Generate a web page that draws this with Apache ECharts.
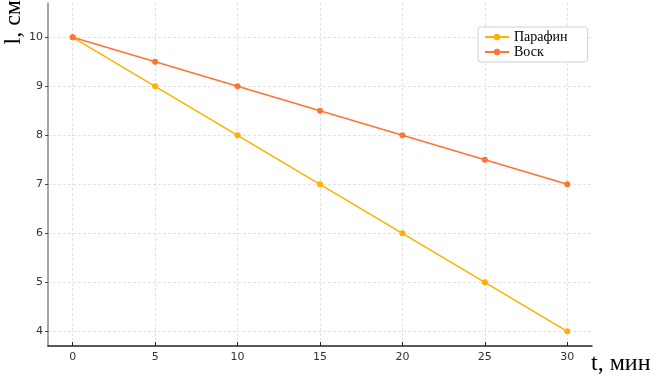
<!DOCTYPE html>
<html><head><meta charset="utf-8">
<script src="https://cdn.jsdelivr.net/npm/echarts@6/dist/echarts.min.js"></script>
<style>html,body{margin:0;padding:0;background:#fff}#c{width:654px;height:377px}</style>
</head><body><div id="c"></div>
<script>
const times = [0, 5, 10, 15, 20, 25, 30];
const paraffin = [10, 9, 8, 7, 6, 5, 4];
const wax = [10, 9.5, 9, 8.5, 8, 7.5, 7];
const xTicks = [0, 5, 10, 15, 20, 25, 30];
const yTicks = [4, 5, 6, 7, 8, 9, 10];
const seriesNames = ['Парафин', 'Воск'];

const chart = echarts.init(document.getElementById('c'), null, {renderer: 'canvas'});
const tickFont = {fontFamily: 'DejaVu Sans', fontSize: 11, color: '#333'};
chart.setOption({
  animation: false,
  grid: {left: 48, right: 62, top: 3, bottom: 31},
  legend: {
    left: 478, top: 27, orient: 'vertical', itemGap: 1,
    itemWidth: 24, itemHeight: 8, padding: [3, 20, 3, 6],
    borderColor: '#d0d0d0', borderWidth: 1, borderRadius: 3, backgroundColor: '#fff',
    textStyle: {fontFamily: 'Liberation Serif', fontSize: 14, color: '#000'},
    data: seriesNames
  },
  xAxis: {
    type: 'value', min: -1.5, max: 31.5,
    axisLine: {onZero: false, lineStyle: {color: '#222', width: 1.5}},
    axisTick: {customValues: xTicks, inside: true, length: 4, lineStyle: {color: '#222'}},
    axisLabel: Object.assign({customValues: xTicks, margin: 6}, tickFont),
    splitLine: {show: true, lineStyle: {color: '#dcdcdc', type: [3, 2], width: 0.8}}
  },
  yAxis: {
    type: 'value', min: 3.7, max: 10.7,
    axisLine: {show: true, onZero: false, lineStyle: {color: '#888', width: 1.5}},
    axisTick: {show: true, customValues: yTicks, length: 3, lineStyle: {color: '#444'}},
    axisLabel: Object.assign({customValues: yTicks, margin: 5}, tickFont),
    splitLine: {show: true, lineStyle: {color: '#dcdcdc', type: [3, 2], width: 0.8}}
  },
  graphic: [
    {type: 'text', left: 2, top: 0, rotation: Math.PI / 2,
      style: {text: 'l, см', fontFamily: 'Liberation Serif', fontSize: 24, fill: '#000'}},
    {type: 'text', left: 591, top: 352,
      style: {text: 't, мин', fontFamily: 'Liberation Serif', fontSize: 24, fill: '#000'}}
  ],
  series: [
    {name: seriesNames[0], type: 'line', data: times.map((t, i) => [t, paraffin[i]]),
      symbol: 'circle', symbolSize: 6, itemStyle: {color: '#ffb000'}, lineStyle: {width: 1.5}},
    {name: seriesNames[1], type: 'line', data: times.map((t, i) => [t, wax[i]]),
      symbol: 'circle', symbolSize: 6, itemStyle: {color: '#ff7433'}, lineStyle: {width: 1.5}}
  ]
});
</script></body></html>
